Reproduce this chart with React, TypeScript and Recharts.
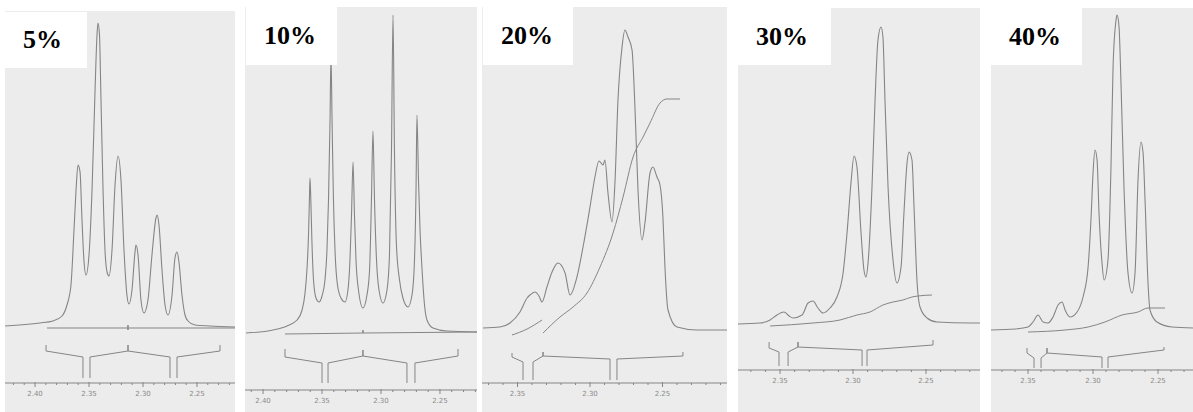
import React from "react";
import { LineChart, Line, XAxis, YAxis } from "recharts";

// each point: [chemical shift in ppm, signal in arbitrary units above the spectrum baseline]
type Pt = [number, number | null];

const panelLabels = ["5%", "10%", "20%", "30%", "40%"];

const ppmTicks = [
  2.42, 2.41, 2.4, 2.39, 2.38, 2.37, 2.36, 2.35, 2.34, 2.33, 2.32, 2.31, 2.3, 2.29, 2.28, 2.27, 2.26,
  2.25, 2.24, 2.23, 2.22, 2.21,
];

// ---- 5% ----
const spectrum5: Pt[] = [
  [2.4278, 1], [2.3954, 4], [2.3833, 6], [2.375, 11], [2.3704, 22], [2.3667, 42], [2.3639, 97],
  [2.362, 137], [2.3602, 162], [2.3583, 155], [2.3565, 107], [2.3546, 65], [2.3528, 52], [2.35, 72],
  [2.3472, 137], [2.3444, 237], [2.3426, 292], [2.3417, 304], [2.3403, 292], [2.3389, 227],
  [2.337, 137], [2.3352, 77], [2.3333, 55], [2.3315, 51], [2.3287, 77], [2.3259, 142], [2.3231, 171],
  [2.3204, 147], [2.3176, 77], [2.3148, 31], [2.313, 23], [2.3102, 37], [2.3074, 75], [2.3065, 82],
  [2.3046, 72], [2.3019, 27], [2.2991, 14], [2.2954, 27], [2.2917, 72], [2.288, 109], [2.287, 112],
  [2.2852, 102], [2.2824, 57], [2.2796, 22], [2.2769, 12], [2.2731, 32], [2.2704, 69], [2.2685, 75],
  [2.2667, 65], [2.2639, 32], [2.2611, 12], [2.2583, 6], [2.2519, 2], [2.238, 1], [2.2148, 0],
];
const integral5: Pt[] = [
  [2.3889, -1], [2.3139, -1], [2.3139, 2], [2.3139, -3], [2.3139, -1], [2.2148, -1],
];
const brackets5: Pt[] = [
  [2.3898, -18], [2.3898, -24], [2.3556, -30], [2.3556, -51], [2.352, null],
  [2.3491, -51], [2.3491, -30], [2.3139, -24], [2.3139, -18], [2.3139, -24], [2.275, -30], [2.275, -51],
  [2.272, null],
  [2.2685, -51], [2.2685, -30], [2.2287, -24], [2.2287, -18],
];

// ---- 10% ----
const spectrum10: Pt[] = [
  [2.4144, 0], [2.3915, 3], [2.3797, 7], [2.3712, 13], [2.3669, 23], [2.3644, 40], [2.3627, 65],
  [2.3614, 100], [2.3606, 138], [2.3602, 155], [2.3596, 138], [2.3586, 93], [2.3572, 53],
  [2.3551, 35], [2.3525, 31], [2.35, 37], [2.3475, 53], [2.3458, 83], [2.3445, 133], [2.3432, 213],
  [2.3424, 278], [2.3415, 213], [2.3403, 133], [2.339, 83], [2.3369, 48], [2.3339, 35], [2.3305, 31],
  [2.328, 43], [2.3263, 73], [2.325, 118], [2.3237, 171], [2.3225, 118], [2.3212, 73], [2.3191, 43],
  [2.3153, 25], [2.3119, 38], [2.3097, 63], [2.3081, 133], [2.3068, 202], [2.3055, 133],
  [2.3038, 73], [2.3017, 43], [2.2983, 30], [2.2949, 43], [2.2928, 78], [2.2911, 183], [2.2898, 318],
  [2.2886, 183], [2.2869, 88], [2.2843, 53], [2.2814, 35], [2.2771, 26], [2.2737, 38], [2.2716, 73],
  [2.2703, 143], [2.2695, 218], [2.2682, 153], [2.2669, 103], [2.2653, 66], [2.2631, 28],
  [2.261, 13], [2.2559, 5], [2.2441, 2], [2.2186, 1],
];
const integral10: Pt[] = [
  [2.3814, -1], [2.3153, 0], [2.3153, 3], [2.3153, 0], [2.2186, 1],
];
const brackets10: Pt[] = [
  [2.3814, -16], [2.3814, -24], [2.35, -30], [2.35, -50], [2.347, null],
  [2.3449, -50], [2.3449, -30], [2.3153, -23], [2.3153, -17], [2.3153, -23], [2.278, -30], [2.278, -50],
  [2.275, null],
  [2.2712, -50], [2.2712, -30], [2.2347, -23], [2.2347, -16],
];

// ---- 20% ----
const spectrum20: Pt[] = [
  [2.3738, 1], [2.3621, 2], [2.3552, 6], [2.3483, 17], [2.3434, 31], [2.3414, 34], [2.3379, 37],
  [2.3352, 33], [2.3331, 27], [2.3297, 42], [2.3262, 57], [2.3221, 66], [2.3172, 56], [2.3138, 34],
  [2.309, 52], [2.3048, 82], [2.3, 122], [2.2966, 152], [2.2938, 168], [2.291, 164], [2.2897, 169],
  [2.2876, 136], [2.2848, 107], [2.2828, 146], [2.2807, 229], [2.2779, 282], [2.2759, 299],
  [2.2738, 292], [2.271, 279], [2.269, 222], [2.2669, 139], [2.2641, 89], [2.2621, 106],
  [2.2586, 156], [2.2566, 162], [2.2538, 152], [2.2517, 144], [2.2497, 112], [2.2483, 62],
  [2.2462, 19], [2.24, 2], [2.2262, -1], [2.2055, -1],
];
const integral20: Pt[] = [
  [2.3538, -6], [2.3434, 0], [2.3331, 9], [2.3328, null],
  [2.3324, -4], [2.3207, 12], [2.3117, 22], [2.3021, 36], [2.2931, 62], [2.2841, 96], [2.2772, 132],
  [2.2703, 172], [2.2634, 192], [2.2586, 206], [2.2517, 226], [2.2469, 230], [2.2379, 230],
];
const brackets20: Pt[] = [
  [2.3538, -24], [2.3538, -28], [2.3462, -33], [2.3462, -51], [2.343, null],
  [2.3393, -51], [2.3393, -33], [2.3324, -27], [2.3324, -23], [2.3324, -27], [2.2862, -30],
  [2.2862, -51], [2.284, null],
  [2.2814, -51], [2.2814, -30], [2.2359, -27], [2.2359, -23],
];

// ---- 30% ----
const spectrum30: Pt[] = [
  [2.3788, -1], [2.3637, 0], [2.3568, 3], [2.3521, 8], [2.3473, 11], [2.3438, 7], [2.3411, 5],
  [2.3349, 8], [2.3308, 20], [2.3274, 22], [2.324, 15], [2.3205, 10], [2.3158, 15], [2.311, 26],
  [2.3068, 50], [2.3041, 90], [2.3014, 140], [2.2993, 167], [2.2973, 156], [2.2945, 90],
  [2.2925, 53], [2.2911, 46], [2.2897, 60], [2.287, 136], [2.2849, 223], [2.2829, 283], [2.2808, 296],
  [2.2795, 286], [2.2781, 223], [2.276, 136], [2.2726, 63], [2.2699, 40], [2.2671, 56], [2.2651, 110],
  [2.263, 160], [2.2616, 171], [2.2596, 163], [2.2582, 116], [2.2562, 43], [2.2541, 16], [2.2493, 5],
  [2.2425, 1], [2.2199, 0], [2.213, 0],
];
const integral30: Pt[] = [
  [2.3568, -3], [2.3274, 0], [2.3089, 3], [2.2973, 8], [2.2884, 11], [2.2795, 18], [2.2726, 21],
  [2.2658, 23], [2.2596, 26], [2.2555, 27], [2.2459, 28],
];
const brackets30: Pt[] = [
  [2.3575, -19], [2.3575, -25], [2.3507, -29], [2.3507, -43], [2.348, null],
  [2.3445, -43], [2.3445, -29], [2.3377, -24], [2.3377, -19], [2.3377, -24], [2.2938, -27],
  [2.2938, -43], [2.292, null],
  [2.2904, -43], [2.2904, -27], [2.2452, -22], [2.2452, -17],
];

// ---- 40% ----
const spectrum40: Pt[] = [
  [2.3785, 0], [2.36, 1], [2.35, 3], [2.3462, 8], [2.3423, 15], [2.3385, 8], [2.3346, 7],
  [2.3308, 13], [2.3269, 25], [2.3238, 28], [2.3215, 20], [2.3177, 13], [2.3123, 18], [2.3077, 33],
  [2.3038, 63], [2.3015, 113], [2.3, 157], [2.2985, 180], [2.2969, 170], [2.2954, 117], [2.2931, 67],
  [2.2915, 50], [2.2885, 70], [2.2862, 163], [2.2846, 263], [2.2823, 310], [2.2815, 315], [2.28, 303],
  [2.2785, 247], [2.2762, 143], [2.2731, 57], [2.27, 37], [2.2677, 57], [2.2654, 150], [2.2631, 188],
  [2.2615, 177], [2.26, 130], [2.2577, 47], [2.2562, 20], [2.2508, 8], [2.2392, 3], [2.2231, 2],
];
const integral40: Pt[] = [
  [2.35, -2], [2.3215, 0], [2.3038, 3], [2.2908, 8], [2.2777, 15], [2.2654, 18], [2.2577, 22],
  [2.2446, 22],
];
const brackets40: Pt[] = [
  [2.3508, -18], [2.3508, -23], [2.3454, -28], [2.3454, -38], [2.343, null],
  [2.34, -38], [2.34, -28], [2.3354, -23], [2.3354, -18], [2.3354, -23], [2.2931, -27], [2.2931, -38],
  [2.291, null],
  [2.2885, -38], [2.2885, -27], [2.2454, -20], [2.2454, -17],
];

const spectra = [spectrum5, spectrum10, spectrum20, spectrum30, spectrum40];
const integrals = [integral5, integral10, integral20, integral30, integral40];
const brackets = [brackets5, brackets10, brackets20, brackets30, brackets40];

// where each scanned sheet sits on the page, and the ppm span it covers
const frames = [
  { left: 5, top: 11, width: 230, axisY: 383, base: 327, range: [2.2148, 2.4278] },
  { left: 245, top: 7, width: 232, axisY: 390, base: 333, range: [2.2186, 2.4153] },
  { left: 482, top: 7, width: 245, axisY: 383, base: 329, range: [2.2055, 2.3745] },
  { left: 738, top: 8, width: 242, axisY: 370, base: 323, range: [2.213, 2.3788] },
  { left: 991, top: 8, width: 202, axisY: 370, base: 330, range: [2.2231, 2.3785] },
];
const labelBoxes = [
  { left: 5, top: 12, width: 82, height: 56 },
  { left: 246, top: 7, width: 91, height: 58 },
  { left: 483, top: 7, width: 90, height: 58 },
  { left: 738, top: 8, width: 93, height: 57 },
  { left: 991, top: 8, width: 91, height: 57 },
];

const PAGE_H = 412;
const PAPER = "#ececec";
const INK = "#858585";

const rows = (pts: Pt[]) => pts.map(([ppm, v]) => ({ ppm, v }));

function ShiftTick(props: any) {
  const { x, y, payload } = props;
  const v = payload.value as number;
  const major = Math.abs(v * 20 - Math.round(v * 20)) < 1e-6;
  return (
    <g>
      <line x1={x} x2={x} y1={y - (major ? 1 : 0)} y2={y + (major ? 4 : 2)} stroke={INK} strokeWidth={1} />
      {major && (
        <text x={x} y={y + 13} textAnchor="middle" fontSize={7} fill="#8a8a8a" fontFamily="DejaVu Sans">
          {v.toFixed(2)}
        </text>
      )}
    </g>
  );
}

function Panel({ i }: { i: number }) {
  const f = frames[i];
  const height = PAGE_H - f.top;
  const axisHeight = PAGE_H - f.axisY;
  const yDomain = [-(f.axisY - f.base), f.base - f.top];
  const ticks = ppmTicks.filter((t) => t >= f.range[0] && t <= f.range[1]);

  return (
    <div style={{ position: "absolute", left: f.left, top: f.top, width: f.width, height, background: PAPER }}>
      <LineChart width={f.width} height={height} margin={{ top: 0, right: 0, bottom: 0, left: 0 }}>
        <XAxis
          type="number"
          dataKey="ppm"
          domain={f.range}
          reversed
          allowDataOverflow
          ticks={ticks}
          interval={0}
          height={axisHeight}
          tickSize={0}
          tickMargin={0}
          tickLine={false}
          axisLine={{ stroke: INK }}
          tick={(p: any) => <ShiftTick {...p} />}
        />
        <YAxis hide type="number" domain={yDomain} allowDataOverflow />
        <Line
          data={rows(brackets[i])}
          dataKey="v"
          type="linear"
          stroke={INK}
          strokeWidth={1}
          dot={false}
          activeDot={false}
          isAnimationActive={false}
        />
        <Line
          data={rows(integrals[i])}
          dataKey="v"
          type={i < 2 ? "linear" : "monotone"}
          stroke={INK}
          strokeWidth={1}
          dot={false}
          activeDot={false}
          isAnimationActive={false}
        />
        <Line
          data={rows(spectra[i])}
          dataKey="v"
          type="monotone"
          stroke={INK}
          strokeWidth={1.1}
          dot={false}
          activeDot={false}
          isAnimationActive={false}
        />
      </LineChart>
    </div>
  );
}

export default function App() {
  return (
    <div style={{ position: "absolute", left: 0, top: 0, width: 1193, height: PAGE_H, background: "#fff", overflow: "hidden" }}>
      {frames.map((_, i) => (
        <Panel key={i} i={i} />
      ))}
      {labelBoxes.map((b, i) => (
        <div
          key={"l" + i}
          style={{
            position: "absolute",
            left: b.left,
            top: b.top,
            width: b.width,
            height: b.height,
            background: "#fff",
            display: "flex",
            alignItems: "center",
            paddingLeft: 18,
            boxSizing: "border-box",
            fontFamily: '"Liberation Serif", "DejaVu Serif", serif',
            fontWeight: 700,
            fontSize: 26,
            color: "#000",
          }}
        >
          {panelLabels[i]}
        </div>
      ))}
    </div>
  );
}
